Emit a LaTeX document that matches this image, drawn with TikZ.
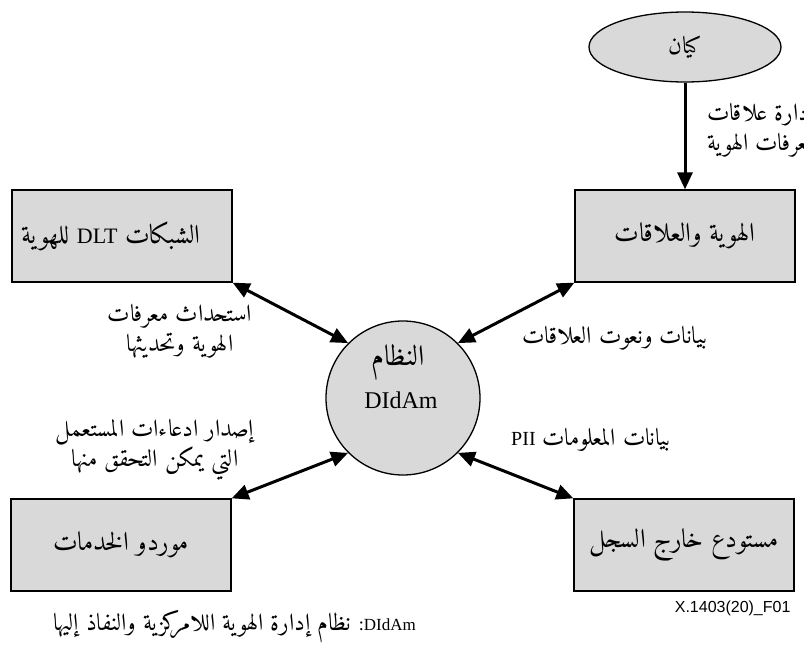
\documentclass[tikz,border=0pt]{standalone}
\usepackage{fontspec}
\setmainfont{Liberation Serif}
\setsansfont{Liberation Sans}
\IfFontExistsTF{Amiri-Regular.ttf}
  {\newfontfamily\arabicfont[Script=Arabic,Scale=1.2]{Amiri-Regular.ttf}}
  {\newfontfamily\arabicfont[Script=Arabic]{DejaVu Sans}}
\newfontfamily\latinfont{Liberation Serif}
\TeXXeTstate=1
\usetikzlibrary{arrows.meta,shapes.geometric}
\definecolor{boxgray}{RGB}{217,217,217}
\newcommand\ar[1]{{\arabicfont\beginR #1\endR}}
\newcommand\lat[1]{\beginL{\latinfont #1}\endL}

\begin{document}
\begin{tikzpicture}[x=1pt, y=-1pt, font=\fontsize{20}{30}\selectfont,
    box/.style={draw, line width=1.3pt, fill=boxgray, minimum width=220pt, minimum height=92pt, inner sep=0pt, font=\fontsize{22}{30}\selectfont},
    dbl/.style={line width=3pt, {Triangle[length=17pt,width=15pt]}-{Triangle[length=17pt,width=15pt]}},
    lbl/.style={align=center, inner sep=0pt}]
\useasboundingbox (0,0) rectangle (804,645);
\clip (0,0) rectangle (804,645);
% الكيان
\node[ellipse, draw, line width=1.3pt, fill=boxgray, minimum width=192pt, minimum height=70pt] (kayan) at (685,47) {\ar{كيان}};
% الصناديق
\node[box] (hawiya) at (685,236) {\ar{الهوية والعلاقات}};
\node[box] (dlt) at (122,236) {\ar{\hspace{22pt}الشبكات\ \lat{DLT}\ للهوية}};
\node[box] (mawarid) at (121,545) {\ar{موردو الخدمات}};
\node[box] (mustawda) at (684,545) {\ar{مستودع خارج السجل}};
% النظام DIdAm
\node[circle, draw, line width=1.3pt, fill=boxgray, minimum size=154pt] (didam) at (403,398) {};
\node[lbl, font=\fontsize{24}{30}\selectfont] (didamar) at (398,362) {\ar{النظام}};
\node[lbl, font=\fontsize{24}{30}\selectfont] (didamlat) at (401,400) {\lat{DIdAm}};
% الأسهم
\draw[line width=3pt, -{Triangle[length=17pt,width=15pt]}] (kayan.south) -- (hawiya.north);
\draw[dbl] (dlt.south east) -- (didam.135);
\draw[dbl] (hawiya.south west) -- (didam.45);
\draw[dbl] (mawarid.north east) -- (didam.225);
\draw[dbl] (mustawda.north west) -- (didam.315);
% التسميات
\node[lbl, anchor=west, align=left] (idarah) at (707,130) {\ar{إدارة علاقات}\\\ar{معرفات الهوية}};
\node[lbl] (istihdath) at (180,331) {\ar{استحداث معرفات}\\\ar{الهوية وتحديثها}};
\node[lbl] (bayanat) at (615,338) {\ar{بيانات ونعوت العلاقات}};
\node[lbl] (isdar) at (155,450) {\ar{إصدار ادعاءات المستعمل}\\\ar{التي يمكن التحقق منها}};
\node[lbl] (pii) at (591,440) {\ar{بيانات المعلومات \lat{PII}}};
\node[anchor=east, font=\sffamily\fontsize{16}{18}\selectfont] (figno) at (794,608) {X.1403(20)\_F01};
\node[anchor=east, inner sep=0pt, font=\fontsize{17}{18}\selectfont] (note) at (416,627)
  {\ar{\lat{DIdAm}: {\fontsize{20}{18}\selectfont نظام إدارة الهوية اللامركزية والنفاذ إليها}}};
\end{tikzpicture}
\end{document}
